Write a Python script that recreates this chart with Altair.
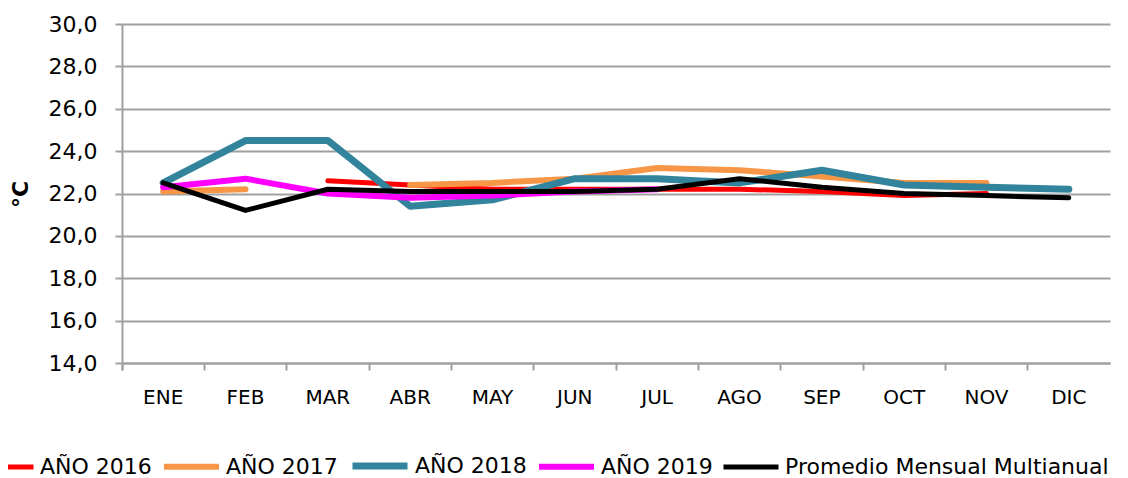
import altair as alt
import pandas as pd

months = ["ENE", "FEB", "MAR", "ABR", "MAY", "JUN", "JUL", "AGO", "SEP", "OCT", "NOV", "DIC"]
series = ["AÑO 2016", "AÑO 2017", "AÑO 2018", "AÑO 2019", "Promedio Mensual Multianual"]

v2016 = [None, None, 22.6, 22.4, 22.2, 22.2, 22.2, 22.2, 22.1, 21.9, 22.0, None]
v2017 = [22.1, 22.2, None, 22.4, 22.5, 22.7, 23.2, 23.1, 22.8, 22.5, 22.5, None]
v2018 = [22.5, 24.5, 24.5, 21.4, 21.7, 22.7, 22.7, 22.5, 23.1, 22.4, 22.3, 22.2]
v2019 = [22.3, 22.7, 22.0, 21.8, 21.9, 22.1, 22.2, None, None, None, None, None]
vprom = [22.5, 21.2, 22.2, 22.1, 22.1, 22.1, 22.2, 22.7, 22.3, 22.0, 21.9, 21.8]

colors = ["#FF0000", "#F79646", "#31849B", "#FF00FF", "#000000"]
widths = [5, 6, 7, 6, 5]

rows = []
for s, vals in zip(series, [v2016, v2017, v2018, v2019, vprom]):
    seg = 0
    for i, (m, v) in enumerate(zip(months, vals)):
        if v is None:
            seg += 1
            continue
        rows.append({"mes": m, "serie": s, "valor": v, "seg": f"{s}-{seg}", "orden": i})
df = pd.DataFrame(rows)

GRID = "#A0A0A0"

legend_opts = dict(
    title=None,
    orient="none",
    direction="horizontal",
    legendX=-146,
    legendY=411,
    symbolType="stroke",
    symbolSize=3025,
    labelFont="DejaVu Sans",
    labelFontSize=22,
    labelColor="#000000",
    labelOffset=4,
    columnPadding=0,
    padding=0,
    labelLimit=800,
)

chart = alt.Chart(df).mark_line(strokeCap="round", strokeJoin="round").encode(
    x=alt.X(
        "mes:N",
        sort=months,
        scale=alt.Scale(type="band", domain=months, paddingInner=0, paddingOuter=0),
        axis=alt.Axis(
            title=None,
            bandPosition=0,
            tickExtra=True,
            labelAngle=0,
            labelFont="DejaVu Sans",
            labelFontSize=20,
            labelColor="#000000",
            labelPadding=17,
            tickSize=7,
            tickColor=GRID,
            tickWidth=2,
            domainColor=GRID,
            domainWidth=2,
            grid=False,
        ),
    ),
    y=alt.Y(
        "valor:Q",
        scale=alt.Scale(domain=[14, 30], nice=False, zero=False),
        axis=alt.Axis(
            values=list(range(14, 31, 2)),
            labelExpr="replace(format(datum.value, '.1f'), '.', ',')",
            title="°C",
            titleFont="DejaVu Sans",
            titleFontSize=22,
            titleFontWeight="bold",
            titleColor="#000000",
            titleX=-102,
            titleY=170,
            titleAlign="center",
            titleBaseline="middle",
            titleAngle=270,
            labelFont="DejaVu Sans",
            labelFontSize=22,
            labelColor="#000000",
            labelPadding=18,
            tickSize=7,
            tickColor=GRID,
            tickWidth=2,
            domainColor=GRID,
            domainWidth=2,
            grid=True,
            gridColor=GRID,
            gridWidth=2,
        ),
    ),
    color=alt.Color(
        "serie:N",
        sort=series,
        scale=alt.Scale(domain=series, range=colors),
        legend=alt.Legend(**legend_opts),
    ),
    strokeWidth=alt.StrokeWidth(
        "serie:N",
        sort=series,
        scale=alt.Scale(type="ordinal", domain=series, range=widths),
        legend=alt.Legend(**legend_opts),
    ),
    detail="seg:N",
    order="orden:Q",
).properties(
    width=988,
    height=339,
    autosize=alt.AutoSizeParams(type="none"),
    padding={"left": 114, "top": 16, "right": 10, "bottom": 115},
    background="white",
).configure_view(stroke=None)

chart.save("out.html", embed_options={"renderer": "svg", "actions": False})
